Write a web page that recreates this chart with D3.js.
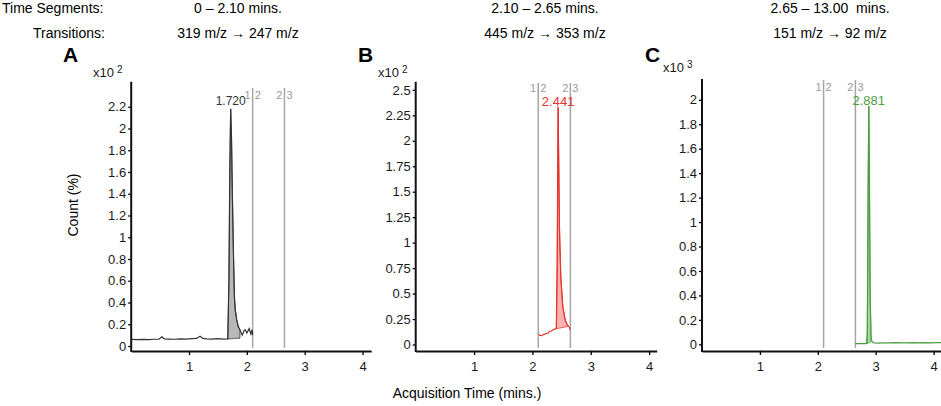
<!DOCTYPE html>
<html>
<head>
<meta charset="utf-8">
<script src="https://cdn.jsdelivr.net/npm/d3@7"></script>
<style>
  body { margin: 0; background: #fff; }
  svg { display: block; font-family: "Liberation Sans", Arial, sans-serif; }
  .tick text { fill: #1a1a1a; }
</style>
</head>
<body>
<div id="chart"></div>
<script>
// chromatogram panels, counts (A/B in x10^2, C in x10^3)

const segTimes = [2.10, 2.65];
const segLabels = [["1", "2"], ["2", "3"]];
const xTicks = [1, 2, 3, 4];

const headerSegments = ["0 \u2013 2.10 mins.", "2.10 \u2013 2.65 mins.", "2.65 \u2013 13.00\u00a0 mins."];
const headerTransitions = ["319 m/z \u2192 247 m/z", "445 m/z \u2192 353 m/z", "151 m/z \u2192 92 m/z"];

const timeA = [0.00, 0.10, 0.20, 0.30, 0.40, 0.48, 0.53, 0.57, 0.65, 0.75, 0.85, 0.95, 1.05, 1.13, 1.19, 1.24,
  1.30, 1.40, 1.50, 1.60, 1.67, 1.69, 1.705, 1.72, 1.735, 1.75, 1.77, 1.785, 1.80, 1.825, 1.85, 1.88,
  1.92, 1.95, 1.97, 2.00, 2.04, 2.07, 2.09, 2.10];
const countA = [0.060, 0.058, 0.060, 0.059, 0.062, 0.063, 0.085, 0.066, 0.064, 0.062, 0.066, 0.063, 0.067, 0.070, 0.090, 0.070,
  0.066, 0.064, 0.068, 0.064, 0.065, 0.60, 1.60, 2.18, 1.90, 1.37, 0.80, 0.45, 0.33, 0.24, 0.18, 0.15,
  0.10, 0.14, 0.15, 0.12, 0.16, 0.11, 0.15, 0.10];

const timeB = [2.11, 2.13, 2.16, 2.20, 2.24, 2.27, 2.29, 2.32, 2.36, 2.38, 2.41, 2.425, 2.435, 2.441, 2.45,
  2.463, 2.486, 2.52, 2.56, 2.59, 2.617, 2.635, 2.647];
const countB = [0.10, 0.09, 0.088, 0.10, 0.108, 0.11, 0.13, 0.13, 0.147, 0.15, 0.16, 0.80, 1.90, 2.33, 1.85,
  1.16, 0.67, 0.376, 0.245, 0.20, 0.18, 0.17, 0.14];

const timeC = [2.65, 2.70, 2.75, 2.80, 2.84, 2.855, 2.87, 2.881, 2.89, 2.905, 2.92, 2.94, 2.97, 3.05, 3.15,
  3.25, 3.35, 3.45, 3.55, 3.65, 3.75, 3.85, 3.95, 4.05, 4.18];
const countC = [0.005, 0.006, 0.005, 0.006, 0.006, 0.10, 1.30, 1.95, 1.50, 0.40, 0.05, 0.02, 0.012, 0.010, 0.012,
  0.011, 0.013, 0.011, 0.012, 0.014, 0.011, 0.013, 0.012, 0.014, 0.013];

const ticksA = [0, 0.2, 0.4, 0.6, 0.8, 1, 1.2, 1.4, 1.6, 1.8, 2, 2.2];
const ticksB = [0, 0.25, 0.5, 0.75, 1, 1.25, 1.5, 1.75, 2, 2.25, 2.5];
const ticksC = [0, 0.2, 0.4, 0.6, 0.8, 1, 1.2, 1.4, 1.6, 1.8, 2];

const peakRT = ["1.720", "2.441", "2.881"];
const peakTime = [1.72, 2.441, 2.881];
const peakCount = [2.18, 2.33, 1.95];
const fillStart = [1.67, 2.38, 2.855];
const fillEnd = [1.88, 2.617, 2.92];
const fillBaseStart = [0.065, 0.15, 0.006];
const fillBaseEnd = [0.072, 0.18, 0.02];
const exponent = ["2", "2", "3"];

const panels = [
  { letter: "A", times: timeA, counts: countA, ticks: ticksA, left: 131.2, width: 240, xMax: 4.15,
    zeroY: 346, topY: 81.7, yMax: 2.43, color: "#333333", fill: "#b8b8b8", segTop: 88, segY: 99, segSize: 11,
    letterX: 63, expX: 93, expY: 77, labelY: 105, labelSize: 12 },
  { letter: "B", times: timeB, counts: countB, ticks: ticksB, left: 415.7, width: 241, xMax: 4.13,
    zeroY: 344.5, topY: 81.7, yMax: 2.58, color: "#e8322c", fill: "#f5b3b0", segTop: 83, segY: 92, segSize: 11,
    letterX: 358, expX: 378, expY: 77, labelY: 106, labelSize: 13 },
  { letter: "C", times: timeC, counts: countC, ticks: ticksC, left: 702, width: 242, xMax: 4.18,
    zeroY: 344.3, topY: 79, yMax: 2.17, color: "#4a9e3f", fill: "#a8d6a0", segTop: 80, segY: 91, segSize: 11,
    letterX: 645, expX: 663, expY: 72, labelY: 105, labelSize: 13 }
];

const W = 941, H = 406, axisY = 351;
const headerX = [238, 545, 830];

const svg = d3.select("#chart").append("svg")
  .attr("width", W)
  .attr("height", H);

// header rows
svg.append("text").attr("x", 2).attr("y", 13).style("font-size", "14px").text("Time Segments:");
svg.append("text").attr("x", 33).attr("y", 38).style("font-size", "14px").text("Transitions:");

svg.selectAll(".hseg").data(headerSegments).enter().append("text")
  .attr("class", "hseg")
  .attr("x", (d, i) => headerX[i]).attr("y", 13)
  .attr("text-anchor", "middle").style("font-size", "14px")
  .text(d => d);

svg.selectAll(".htr").data(headerTransitions).enter().append("text")
  .attr("class", "htr")
  .attr("x", (d, i) => headerX[i]).attr("y", 38)
  .attr("text-anchor", "middle").style("font-size", "14px")
  .text(d => d);

panels.forEach((p, i) => {
  let x = d3.scaleLinear().domain([0, p.xMax]).range([p.left, p.left + p.width]);
  let y = d3.scaleLinear().domain([0, p.yMax]).range([p.zeroY, p.topY]);
  let pts = p.times.map((t, k) => ({ t: t, v: p.counts[k] }));

  // panel letter and exponent
  svg.append("text").attr("x", p.letterX).attr("y", 62)
    .style("font-size", "21px").style("font-weight", "bold").text(p.letter);
  let ex = svg.append("text").attr("x", p.expX).attr("y", p.expY)
    .style("font-size", "13px").style("fill", "#1a1a1a");
  ex.append("tspan").text("x10");
  ex.append("tspan").attr("dx", 3).attr("dy", -4).style("font-size", "10px").text(exponent[i]);

  // segment dividers
  segTimes.forEach((s, j) => {
    svg.append("line")
      .attr("x1", x(s)).attr("x2", x(s))
      .attr("y1", p.segTop).attr("y2", axisY - 3)
      .attr("stroke", "#a6a6a6").attr("stroke-width", 1.5);
    svg.append("text").attr("x", x(s) - 2).attr("y", p.segY)
      .attr("text-anchor", "end").style("font-size", p.segSize + "px").style("fill", "#9a9a9a")
      .text(segLabels[j][0]);
    svg.append("text").attr("x", x(s) + 2).attr("y", p.segY)
      .style("font-size", p.segSize + "px").style("fill", "#9a9a9a")
      .text(segLabels[j][1]);
  });

  // integrated peak area
  let base = d3.scaleLinear().domain([fillStart[i], fillEnd[i]]).range([fillBaseStart[i], fillBaseEnd[i]]);
  let inPeak = pts.filter(d => d.t >= fillStart[i] && d.t <= fillEnd[i]);
  let area = d3.area().x(d => x(d.t)).y0(d => y(base(d.t))).y1(d => y(d.v));
  svg.append("path").datum(inPeak)
    .attr("d", area)
    .attr("fill", p.fill)
    .attr("stroke", p.color).attr("stroke-width", 0.8);

  // trace
  let line = d3.line().x(d => x(d.t)).y(d => y(d.v));
  svg.append("path").datum(pts)
    .attr("d", line)
    .attr("fill", "none")
    .attr("stroke", p.color).attr("stroke-width", 1.2);

  // retention time label
  svg.append("text").attr("x", x(peakTime[i])).attr("y", p.labelY)
    .attr("text-anchor", "middle").style("font-size", p.labelSize + "px")
    .style("fill", p.color)
    .text(peakRT[i]);

  // axes
  let yAxis = d3.axisLeft(y).tickValues(p.ticks).tickFormat(d3.format("~g")).tickSize(3).tickSizeOuter(0).tickPadding(2);
  let gy = svg.append("g").attr("transform", "translate(" + p.left + ",0)").call(yAxis);
  gy.select(".domain").remove();
  gy.selectAll("text").style("font-size", "13px");
  gy.selectAll("line").attr("stroke-width", 1.3);
  svg.append("line")
    .attr("x1", p.left).attr("x2", p.left)
    .attr("y1", p.topY).attr("y2", axisY + 1)
    .attr("stroke", "#111").attr("stroke-width", 2);

  let xAxis = d3.axisBottom(x).tickValues(xTicks).tickFormat(d3.format("~g")).tickSize(4).tickSizeOuter(0).tickPadding(7);
  let gx = svg.append("g").attr("transform", "translate(0," + axisY + ")").call(xAxis);
  gx.select(".domain").attr("stroke", "#111").attr("stroke-width", 2);
  gx.selectAll("text").style("font-size", "13px");
  gx.selectAll("line").attr("stroke-width", 1.3);
});

// shared axis titles
svg.append("text")
  .attr("transform", "translate(78,205) rotate(-90)")
  .attr("text-anchor", "middle").style("font-size", "14px")
  .text("Count (%)");

svg.append("text")
  .attr("x", 467).attr("y", 398)
  .attr("text-anchor", "middle").style("font-size", "14px")
  .text("Acquisition Time (mins.)");
</script>
</body>
</html>
